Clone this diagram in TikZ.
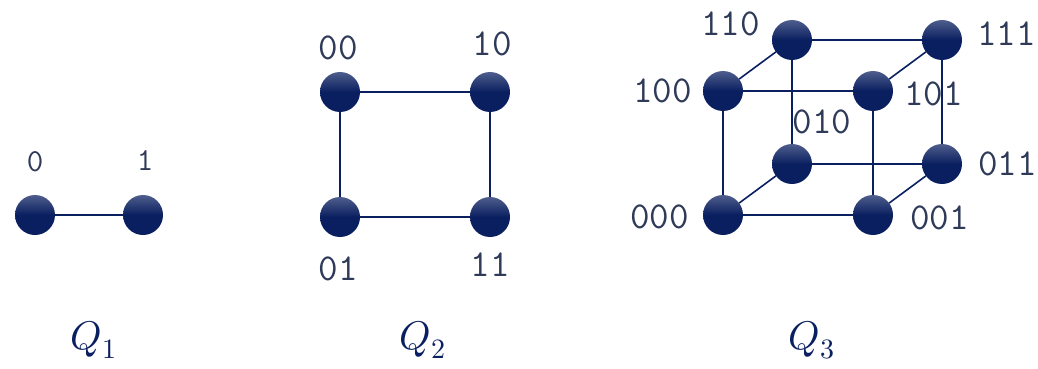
\documentclass[tikz,border=0pt]{standalone}
\usepackage{fontspec}
\usepackage{unicode-math}
\setmathfont{Latin Modern Math}
\usetikzlibrary{
    positioning,
    backgrounds
}
\definecolor{vnavy}{HTML}{0A1F60}
\definecolor{bitgray}{HTML}{2E3A58}
\newcommand{\bitfont}{\ttfamily\addfontfeatures{LetterSpace=6}}

\begin{document}
\begin{tikzpicture}[
    x=1pt, y=-1pt,
    node distance=12pt,
    vertex/.style={circle, inner sep=0pt, outer sep=0pt, minimum size=40pt, top color=vnavy!72!white, bottom color=vnavy, middle color=vnavy},
    bit/.style={font=\fontsize{38}{38}\selectfont\bitfont, text=bitgray, inner sep=0pt},
    smallbit/.style={bit, font=\fontsize{32}{32}\selectfont\bitfont},
    edge/.style={draw=vnavy, line width=1.6pt},
    qlabel/.style={font=\fontsize{40}{46}\selectfont, text=vnavy, anchor=base}
]
\useasboundingbox (0,0) rectangle (1038,369);

% Q1
\node[vertex] (q1a) at (35,215) {};
\node[vertex] (q1b) at (143,215) {};
\node[smallbit, above=23pt of q1a] {0};
\node[smallbit, above=24pt of q1b, xshift=2pt] {1};

% Q2
\node[vertex] (q2a) at (340,92) {};
\node[vertex] (q2b) at (490,92) {};
\node[vertex] (q2c) at (340,217) {};
\node[vertex] (q2d) at (490,217) {};
\node[bit, above=12pt of q2a, xshift=-2pt] {00};
\node[bit, above=16pt of q2b, xshift=2pt] {10};
\node[bit, below=20pt of q2c, xshift=-2pt] {01};
\node[bit, below=16pt of q2d] {11};

% Q3 front face
\node[vertex] (v100) at (723,91) {};
\node[vertex] (v101) at (873,91) {};
\node[vertex] (v000) at (723,215) {};
\node[vertex] (v001) at (873,215) {};
% Q3 back face
\node[vertex] (v110) at (792,40) {};
\node[vertex] (v111) at (942,40) {};
\node[vertex] (v010) at (792,164) {};
\node[vertex] (v011) at (942,164) {};

\node[bit, left=12pt of v110, yshift=16pt] {110};
\node[bit, right=15pt of v111, yshift=6pt] {111};
\node[bit, left=11pt of v100] {100};
\node[bit, right=11pt of v101, yshift=-3pt] {101};
\node[bit, above=10pt of v010, xshift=30pt] {010};
\node[bit, right=16pt of v011] {011};
\node[bit, left=14pt of v000, yshift=-2pt] {000};
\node[bit, right=17pt of v001, yshift=-3pt] {001};

% Edges
\begin{scope}[on background layer]
\draw[edge] (q1a) -- (q1b);
\draw[edge] (q2a) -- (q2b) -- (q2d) -- (q2c) -- (q2a);
\draw[edge] (v000) -- (v001) -- (v101) -- (v100) -- (v000);
\draw[edge] (v010) -- (v011) -- (v111) -- (v110) -- (v010);
\draw[edge] (v000) -- (v010);
\draw[edge] (v001) -- (v011);
\draw[edge] (v100) -- (v110);
\draw[edge] (v101) -- (v111);
\end{scope}

% Titles
\node[qlabel] (t1) at (94,349) {$Q_1$};
\node[qlabel] (t2) at (423,349) {$Q_2$};
\node[qlabel] (t3) at (812,349) {$Q_3$};
\end{tikzpicture}
\end{document}
